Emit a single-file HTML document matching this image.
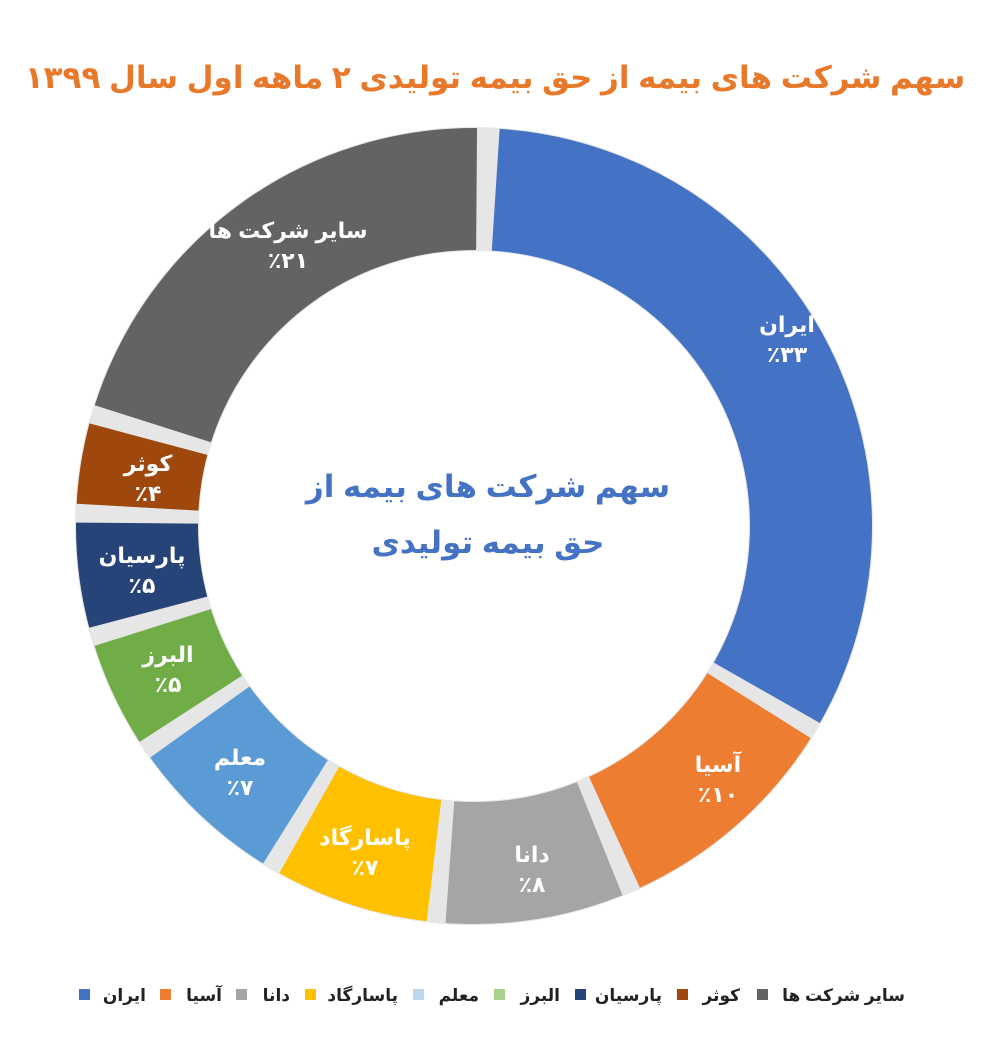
<!DOCTYPE html>
<html><head><meta charset="utf-8"><style>
html,body{margin:0;padding:0;background:#fff;width:994px;height:1042px;overflow:hidden}
svg{display:block}
text{font-family:"Liberation Sans","DejaVu Sans","Noto Sans CJK SC",sans-serif;font-weight:bold}
</style></head><body>
<svg width="994" height="1042" viewBox="0 0 994 1042" xmlns="http://www.w3.org/2000/svg">
<rect width="994" height="1042" fill="#fff"/>
<text x="495" y="88" text-anchor="middle" font-size="31" fill="#E8782A" direction="rtl">سهم شرکت های بیمه از حق بیمه تولیدی ۲ ماهه اول سال ۱۳۹۹</text>
<g transform="rotate(-88 474 526)" fill="none" stroke-width="122">
<circle cx="474" cy="526" r="337" stroke="#e6e6e6" stroke-width="124"/>
<circle cx="474" cy="526" r="337" stroke="#4472C4" stroke-dasharray="682 2200" stroke-dashoffset="-10"/>
<circle cx="474" cy="526" r="337" stroke="#ED7D31" stroke-dasharray="195 2200" stroke-dashoffset="-707"/>
<circle cx="474" cy="526" r="337" stroke="#A5A5A5" stroke-dasharray="153 2200" stroke-dashoffset="-918"/>
<circle cx="474" cy="526" r="337" stroke="#FFC000" stroke-dasharray="132 2200" stroke-dashoffset="-1087"/>
<circle cx="474" cy="526" r="337" stroke="#5B9BD5" stroke-dasharray="132 2200" stroke-dashoffset="-1235"/>
<circle cx="474" cy="526" r="337" stroke="#70AD47" stroke-dasharray="90 2200" stroke-dashoffset="-1383"/>
<circle cx="474" cy="526" r="337" stroke="#264478" stroke-dasharray="90 2200" stroke-dashoffset="-1489"/>
<circle cx="474" cy="526" r="337" stroke="#9E480E" stroke-dasharray="69 2200" stroke-dashoffset="-1595"/>
<circle cx="474" cy="526" r="337" stroke="#636363" stroke-dasharray="428 2200" stroke-dashoffset="-1680"/>
</g>
<text x="488" y="497" text-anchor="middle" font-size="31" fill="#4472C4" direction="rtl">سهم شرکت های بیمه از</text>
<text x="488" y="553" text-anchor="middle" font-size="31" fill="#4472C4" direction="rtl">حق بیمه تولیدی</text>
<g fill="#fff" font-size="22" text-anchor="middle" direction="rtl">
<text x="787" y="332">ایران</text><text x="787" y="362">٪۳۳</text>
<text x="718" y="772">آسیا</text><text x="718" y="802">٪۱۰</text>
<text x="532" y="862">دانا</text><text x="532" y="892">٪۸</text>
<text x="365" y="845">پاسارگاد</text><text x="365" y="875">٪۷</text>
<text x="240" y="765">معلم</text><text x="240" y="795">٪۷</text>
<text x="168" y="662">البرز</text><text x="168" y="692">٪۵</text>
<text x="142" y="563">پارسیان</text><text x="142" y="593">٪۵</text>
<text x="148" y="471">کوثر</text><text x="148" y="501">٪۴</text>
<text x="288" y="238">سایر شرکت ها</text><text x="288" y="268">٪۲۱</text>
</g>
<g font-size="17" fill="#222" direction="rtl" text-anchor="start">
<rect x="79" y="989" width="11" height="11" fill="#4472C4"/><text x="146" y="1001">ایران</text>
<rect x="160" y="989" width="11" height="11" fill="#ED7D31"/><text x="222" y="1001">آسیا</text>
<rect x="236" y="989" width="11" height="11" fill="#A5A5A5"/><text x="290" y="1001">دانا</text>
<rect x="305" y="989" width="11" height="11" fill="#FFC000"/><text x="398" y="1001">پاسارگاد</text>
<rect x="413" y="989" width="11" height="11" fill="#BDD7EE"/><text x="479" y="1001">معلم</text>
<rect x="494" y="989" width="11" height="11" fill="#A9D18E"/><text x="560" y="1001">البرز</text>
<rect x="575" y="989" width="11" height="11" fill="#264478"/><text x="662" y="1001">پارسیان</text>
<rect x="677" y="989" width="11" height="11" fill="#9E480E"/><text x="740" y="1001">کوثر</text>
<rect x="757" y="989" width="11" height="11" fill="#636363"/><text x="905" y="1001">سایر شرکت ها</text>
</g>
</svg>
</body></html>
